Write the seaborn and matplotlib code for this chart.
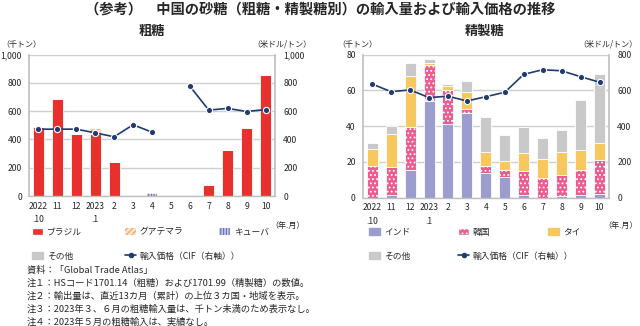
import numpy as np
import pandas as pd
import matplotlib
matplotlib.use("Agg")
import matplotlib.pyplot as plt
from matplotlib.patches import Patch
from matplotlib.lines import Line2D
from matplotlib.ticker import FuncFormatter, MultipleLocator, FixedLocator
import seaborn as sns

# ---------------- data ----------------
months = ["2022\n.10", "11", "12", "2023\n.1", "2", "3", "4", "5", "6", "7", "8", "9", "10"]

# 粗糖 (千トン)
raw_brazil = [485, 690, 440, 440, 242, 0, 0, 0, 0, 75, 325, 483, 855]
raw_guatemala = [0, 0, 0, 43, 0, 0, 0, 0, 0, 0, 0, 0, 0]
raw_cuba = [0, 0, 0, 0, 0, 0, 22, 0, 0, 0, 0, 0, 0]
raw_other = [0, 0, 0, 0, 0, 0, 0, 0, 0, 0, 0, 0, 0]
raw_price = [473, 473, 473, 447, 419, 504, 452, np.nan, 777, 608, 620, 598, 612]

# 精製糖 (千トン)
ref_india = [0, 1.3, 15.7, 54.3, 41.4, 47.3, 13.7, 11.4, 1.3, 0, 1.0, 1.3, 2.0]
ref_korea = [17.5, 16.1, 23.7, 20.0, 18.6, 2.4, 4.0, 3.9, 13.7, 11.0, 11.7, 14.2, 19.1]
ref_thai = [9.5, 18.0, 28.7, 1.3, 2.4, 9.3, 8.1, 5.1, 10.2, 10.7, 13.1, 11.0, 9.4]
ref_other = [3.8, 4.8, 7.2, 2.0, 1.1, 6.3, 19.2, 14.7, 14.6, 11.9, 11.9, 28.2, 38.9]
ref_price = [636, 593, 603, 560, 568, 541, 565, 590, 690, 716, 710, 677, 646]

title = "（参考）　中国の砂糖（粗糖・精製糖別）の輸入量および輸入価格の推移"
notes = [
    "資料：「Global Trade Atlas」",
    "注１：HSコード1701.14（粗糖）および1701.99（精製糖）の数値。",
    "注２：輸出量は、直近13カ月（累計）の上位３カ国・地域を表示。",
    "注３：2023年３、６月の粗糖輸入量は、千トン未満のため表示なし。",
    "注４：2023年５月の粗糖輸入は、実績なし。",
]

# ---------------- style ----------------
sns.set_style("white")
plt.rcParams["font.family"] = ["Noto Sans CJK JP", "DejaVu Sans"]
plt.rcParams["hatch.linewidth"] = 0.8

C_BRAZIL = "#e8302c"
C_GUAT = "#f2a160"
C_CUBA = "#6a6ac0"
C_OTHER = "#c9c9c9"
C_INDIA = "#9c9ccf"
C_KOREA = "#ea5d90"
C_THAI = "#f7c85e"
C_LINE = "#1f3b72"
C_GRID = "#cfcfcf"
C_SPINE = "#bfbfbf"
TICK_FS = 6.2

W, H = 640, 326
fig = plt.figure(figsize=(W / 100, H / 100), dpi=100)


def fx(px):
    return px / W


def fy(py):
    return 1 - py / H


ax1 = fig.add_axes([fx(29), fy(196), fx(246), fy(54.7) - fy(196)])
ax2 = fig.add_axes([fx(362.7), fy(197.7), fx(246.3), fy(54.7) - fy(197.7)])

x = np.arange(len(months))
BW = 0.58


def stack(ax, series):
    bottom = np.zeros(len(months))
    for vals, kw in series:
        vals = np.asarray(vals, dtype=float)
        ax.bar(x, vals, BW, bottom=bottom, zorder=2, **kw)
        bottom += vals


stack(ax1, [
    (raw_brazil, dict(color=C_BRAZIL, edgecolor="white", linewidth=0.6)),
    (raw_guatemala, dict(facecolor="#fde3cc", edgecolor=C_GUAT, hatch="//////", linewidth=0)),
    (raw_cuba, dict(facecolor="#c9c9ee", edgecolor=C_CUBA, hatch="||||||", linewidth=0)),
    (raw_other, dict(color=C_OTHER, edgecolor="white", linewidth=0.6)),
])
stack(ax2, [
    (ref_india, dict(color=C_INDIA, edgecolor="white", linewidth=0.6)),
    (ref_korea, dict(facecolor=C_KOREA, edgecolor="white", hatch="....", linewidth=0.6)),
    (ref_thai, dict(color=C_THAI, edgecolor="white", linewidth=0.6)),
    (ref_other, dict(color=C_OTHER, edgecolor="white", linewidth=0.6)),
])


def price_line(ax, prices, ymax, step):
    tw = ax.twinx()
    df = pd.DataFrame({"x": x, "price": prices})
    df["seg"] = np.cumsum(df["price"].isna().astype(int))
    df = df.dropna()
    sns.lineplot(data=df, x="x", y="price", units="seg", estimator=None,
                 color=C_LINE, lw=1.2, marker="o", markersize=4.5,
                 markeredgecolor="white", markeredgewidth=0.8,
                 markerfacecolor=C_LINE, ax=tw, legend=False, zorder=5)
    tw.set_ylim(0, ymax)
    tw.yaxis.set_major_locator(MultipleLocator(step))
    tw.yaxis.set_major_formatter(FuncFormatter(lambda v, p: f"{int(v):,}"))
    tw.tick_params(axis="y", length=0, labelsize=TICK_FS, pad=6)
    tw.set_ylabel("")
    for s in ["top", "left", "bottom"]:
        tw.spines[s].set_visible(False)
    tw.spines["right"].set_color(C_SPINE)
    tw.spines["right"].set_linewidth(1.2)
    return tw


def style_main(ax, ymax, step):
    ax.set_xlim(-0.5, len(months) - 0.5)
    ax.set_ylim(0, ymax)
    ax.yaxis.set_major_locator(MultipleLocator(step))
    ax.yaxis.set_major_formatter(FuncFormatter(lambda v, p: f"{int(v):,}"))
    ax.grid(axis="y", color=C_GRID, lw=1.0, zorder=0)
    ax.set_axisbelow(True)
    ax.set_xticks(x)
    ax.set_xticklabels(months, fontsize=TICK_FS, linespacing=1.7, va="top")
    ax.xaxis.set_minor_locator(FixedLocator(np.arange(-0.5, len(months), 1.0)))
    ax.tick_params(axis="x", which="major", length=0, pad=4)
    ax.tick_params(axis="x", which="minor", length=3, color=C_SPINE, width=0.8)
    ax.tick_params(axis="y", length=0, labelsize=TICK_FS, pad=5)
    for s in ["top", "right"]:
        ax.spines[s].set_visible(False)
    ax.spines["left"].set_color(C_SPINE)
    ax.spines["left"].set_linewidth(1.2)
    ax.spines["bottom"].set_color(C_SPINE)
    ax.spines["bottom"].set_linewidth(1.0)
    ax.set_xlabel("")
    ax.set_ylabel("")


style_main(ax1, 1000, 200)
style_main(ax2, 80, 20)
price_line(ax1, raw_price, 1000, 200)
price_line(ax2, ref_price, 800, 200)

# ---------------- texts ----------------
fig.text(0.5, fy(10), title, ha="center", va="center", fontsize=10.3, fontweight="bold")
fig.text(fx(152), fy(31), "粗糖", ha="center", va="center", fontsize=9.5, fontweight="bold")
fig.text(fx(485), fy(31), "精製糖", ha="center", va="center", fontsize=9.5, fontweight="bold")

fig.text(fx(1), fy(44), "（千トン）", ha="left", va="center", fontsize=5.8)
fig.text(fx(311), fy(44), "（米ドル/トン）", ha="right", va="center", fontsize=5.8)
fig.text(fx(337), fy(44), "（千トン）", ha="left", va="center", fontsize=5.8)
fig.text(fx(638), fy(44), "（米ドル/トン）", ha="right", va="center", fontsize=5.8)
fig.text(fx(305), fy(225), "（年.月）", ha="right", va="center", fontsize=5.8)
fig.text(fx(638), fy(225), "（年.月）", ha="right", va="center", fontsize=5.8)

for i, line in enumerate(notes):
    fig.text(fx(27), fy(270 + 13 * i), line, ha="left", va="center", fontsize=6.7)

# ---------------- legends ----------------
line_handle = Line2D([0], [0], color=C_LINE, lw=1.2, marker="o", markersize=3,
                     markerfacecolor=C_LINE, markeredgecolor=C_LINE)


def item(handle, label, px, py):
    lg = fig.legend(handles=[handle], labels=[label], loc="center left",
                    bbox_to_anchor=(fx(px), fy(py)), frameon=False,
                    fontsize=6.3, borderpad=0, borderaxespad=0,
                    handlelength=1.3, handleheight=0.9, handletextpad=0.4)
    return lg


item(Patch(facecolor=C_BRAZIL, edgecolor="white"), "ブラジル", 32, 232)
item(Patch(facecolor="#fde3cc", edgecolor=C_GUAT, hatch="//////", lw=0), "グアテマラ", 125, 232)
item(Patch(facecolor="#c9c9ee", edgecolor=C_CUBA, hatch="||||||", lw=0), "キューバ", 219, 232)
item(Patch(facecolor=C_OTHER, edgecolor=C_OTHER), "その他", 32, 256)
item(line_handle, "輸入価格（CIF（右軸））", 125, 256)

item(Patch(facecolor=C_INDIA, edgecolor=C_INDIA), "インド", 369, 232)
item(Patch(facecolor=C_KOREA, edgecolor="white", hatch="...."), "韓国", 458, 232)
item(Patch(facecolor=C_THAI, edgecolor=C_THAI), "タイ", 548, 232)
item(Patch(facecolor=C_OTHER, edgecolor=C_OTHER), "その他", 369, 256)
item(line_handle, "輸入価格（CIF（右軸））", 458, 256)

fig.savefig("out.png", dpi=100)
